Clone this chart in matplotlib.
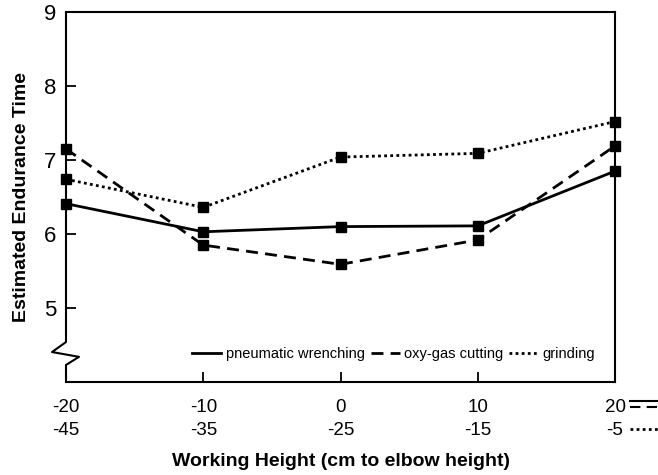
import matplotlib
matplotlib.use('Agg')
import matplotlib.pyplot as plt
from matplotlib.lines import Line2D

plt.rcParams['font.family'] = ['Liberation Sans', 'DejaVu Sans']

# working height relative to elbow (top row) and absolute offset for grinding (bottom row)
heights = [-20, -10, 0, 10, 20]
heights_grinding = [-45, -35, -25, -15, -5]

pneumatic_wrenching = [6.41, 6.03, 6.10, 6.11, 6.85]
oxy_gas_cutting = [7.15, 5.85, 5.59, 5.92, 7.19]
grinding = [6.74, 6.36, 7.04, 7.09, 7.52]

y_ticks = [5, 6, 7, 8, 9]

fig = plt.figure(figsize=(6.58, 4.75), dpi=100)
ax = fig.add_axes([0.1003, 0.1958, 0.8344, 0.7789])

style = dict(color='black', marker='s', markersize=6.5, clip_on=False, zorder=3)
ax.plot(heights, pneumatic_wrenching, linestyle='-', linewidth=2.0,
        label='pneumatic wrenching', **style)
ax.plot(heights, oxy_gas_cutting, linestyle=(0, (4.3, 2.6)), linewidth=2.0,
        label='oxy-gas cutting', **style)
ax.plot(heights, grinding, linestyle=(0, (1, 1.2)), linewidth=2.0,
        label='grinding', **style)

ax.set_xlim(-20, 20)
ax.set_ylim(4.0, 9.0)
ax.set_yticks(y_ticks)
ax.set_yticklabels([str(t) for t in y_ticks], fontsize=16)
ax.set_xticks(heights)
ax.set_xticklabels([f'{a}\n{b}' for a, b in zip(heights, heights_grinding)],
                   fontsize=13.5, linespacing=1.5)
ax.tick_params(axis='both', direction='in', length=7, width=1.3, colors='black')
ax.tick_params(axis='x', pad=12)
ax.tick_params(axis='y', pad=7)

for side in ['top', 'right', 'bottom']:
    ax.spines[side].set_linewidth(1.5)
ax.spines['left'].set_visible(False)

# left spine with the axis-break zigzag
dx = 1 / 549
brk_x = [0, 0, -14 * dx, 13 * dx, 0, 0]
brk_y = [1, 0.108, 0.081, 0.068, 0.046, 0]
ax.add_line(Line2D(brk_x, brk_y, transform=ax.transAxes, color='black',
                   linewidth=1.5, clip_on=False))

ax.set_xlabel('Working Height (cm to elbow height)', fontsize=14,
              fontweight='bold', labelpad=10)
ax.set_ylabel('Estimated Endurance Time', fontsize=14, fontweight='bold',
              labelpad=10)

ax.legend(loc='center', bbox_to_anchor=(0.597, 0.076), ncol=3, frameon=False,
          fontsize=10.5, handlelength=2.0, handletextpad=0.3, columnspacing=0.4,
          markerscale=0)

# key beside the last tick label: top row -> solid/dashed, bottom row -> dotted
fig.add_artist(Line2D([630 / 658, 1.0], [1 - 401 / 475] * 2, color='black',
                      linewidth=1.5))
fig.add_artist(Line2D([630 / 658, 1.0], [1 - 407 / 475] * 2, color='black',
                      linewidth=1.5, linestyle=(0, (5, 3))))
fig.add_artist(Line2D([630 / 658, 1.0], [1 - 429 / 475] * 2, color='black',
                      linewidth=2.0, linestyle=(0, (1, 1.2))))

fig.savefig('out.png', dpi=100)
